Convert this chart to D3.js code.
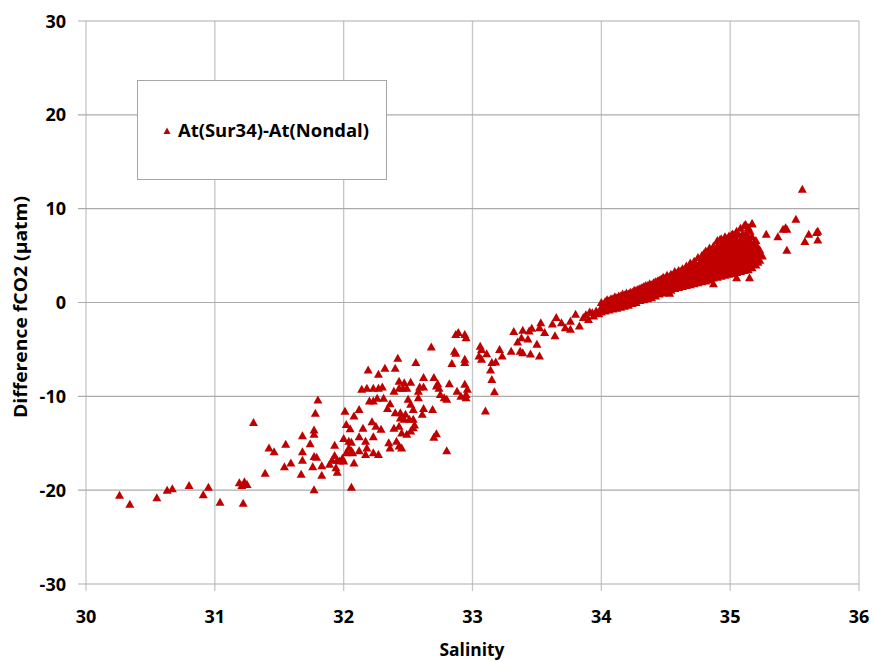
<!DOCTYPE html>
<html>
<head>
	<script src="https://d3js.org/d3.v7.min.js"></script>
	<title>Difference fCO2 vs Salinity</title>
	<style>
		body { margin: 0; background: #fff; }
		text { font-family: "Open Sans", sans-serif; font-weight: bold; fill: #000; }
	</style>
</head>
<body>
<svg id="chart" width="873" height="661"></svg>
<script>
	// axis ticks
	var salTicks = [30, 31, 32, 33, 34, 35, 36];
	var diffTicks = [-30, -20, -10, 0, 10, 20, 30];
	var seriesName = "At(Sur34)-At(Nondal)";

	// scattered part of the cloud [salinity, difference]
	var sparsePts = [
		[30.26,-20.55],[30.34,-21.5],[30.55,-20.8],[30.63,-20.0],[30.67,-19.85],[30.80,-19.5],[30.91,-20.5],[30.95,-19.7],
		[31.04,-21.3],[31.19,-19.2],[31.23,-19.1],[31.22,-21.4],[31.25,-19.4],[31.21,-19.5],[31.30,-12.8],[31.39,-18.2],
		[31.42,-15.5],[31.46,-15.9],[31.55,-15.1],[31.54,-17.5],[31.59,-17.1],[31.68,-14.2],[31.68,-15.9],[31.68,-16.8],
		[31.67,-18.3],[31.74,-15.05],[31.77,-16.4],[31.79,-16.5],[31.76,-17.5],[31.83,-17.4],[31.83,-18.4],[31.77,-19.95],
		[31.77,-13.6],[31.78,-11.8],[31.80,-10.4],[31.77,-14.05],[31.89,-17.25],[31.91,-16.8],[31.93,-16.3],[31.95,-16.8],
		[31.97,-16.9],[31.99,-16.6],[32.00,-16.9],[31.94,-17.6],[31.95,-18.1],[31.93,-15.2],[32.01,-11.6],[32.02,-13.0],
		[32.00,-14.5],[32.04,-14.8],[32.06,-14.9],[32.04,-15.5],[32.02,-16.0],[32.06,-15.8],[32.07,-16.0],[32.05,-13.45],
		[32.08,-17.1],[32.06,-19.7],[32.08,-12.1],[32.12,-11.4],[32.15,-13.4],[32.12,-14.3],[32.17,-14.8],[32.18,-15.5],
		[32.12,-15.8],[32.17,-16.2],[32.23,-16.0],[32.27,-16.2],[32.22,-12.7],[32.25,-13.2],[32.29,-13.5],[32.23,-14.3],
		[32.14,-9.25],[32.18,-9.15],[32.19,-7.2],[32.20,-10.5],[32.23,-10.5],[32.26,-10.2],[32.23,-9.15],[32.27,-9.15],
		[32.30,-9.0],[32.27,-7.65],[32.32,-7.0],[32.40,-7.0],[32.42,-5.95],[32.31,-10.2],[32.36,-10.8],[32.34,-11.3],
		[32.39,-9.45],[32.43,-9.15],[32.46,-9.15],[32.43,-8.4],[32.47,-8.55],[32.52,-8.5],[32.49,-9.15],[32.40,-11.75],
		[32.44,-11.75],[32.48,-11.9],[32.44,-12.3],[32.47,-12.45],[32.51,-12.45],[32.39,-13.4],[32.43,-13.2],[32.45,-13.9],
		[32.49,-14.05],[32.52,-13.7],[32.35,-14.95],[32.36,-15.5],[32.41,-14.8],[32.43,-15.3],[32.45,-15.5],[32.50,-10.3],
		[32.52,-10.85],[32.54,-11.4],[32.54,-12.45],[32.54,-13.35],[32.55,-13.05],[32.56,-6.4],[32.58,-9.45],[32.59,-9.0],
		[32.62,-9.0],[32.58,-10.15],[32.62,-8.0],[32.62,-11.3],[32.61,-11.9],[32.69,-11.4],[32.68,-4.75],[32.70,-8.0],
		[32.72,-8.9],[32.73,-8.65],[32.74,-9.15],[32.70,-14.35],[32.72,-14.0],[32.80,-15.8],[32.75,-9.8],[32.78,-10.15],
		[32.80,-10.3],[32.82,-8.65],[32.84,-6.5],[32.86,-5.2],[32.87,-5.4],[32.87,-3.4],[32.89,-3.2],[32.94,-3.4],
		[32.95,-3.75],[32.94,-6.05],[32.94,-6.4],[32.88,-9.45],[32.91,-10.0],[32.95,-10.15],[32.94,-8.7],[32.96,-9.25],
		[32.95,-9.8],[33.06,-4.65],[33.07,-5.0],[33.05,-5.7],[33.07,-6.05],[33.11,-5.45],[33.15,-6.4],[33.18,-6.35],
		[33.14,-7.2],[33.15,-8.2],[33.10,-11.55],[33.17,-9.5],[33.23,-5.7],[33.21,-5.0],[33.32,-3.1],[33.30,-5.2],
		[33.37,-5.2],[33.39,-5.35],[33.45,-5.5],[33.52,-5.7],[33.50,-4.45],[33.35,-4.2],[33.38,-3.75],[33.43,-3.9],
		[33.44,-3.05],[33.39,-2.95],[33.46,-2.75],[33.53,-2.15],[33.52,-2.7],[33.56,-3.2],[33.62,-2.3],[33.64,-3.55],
		[33.65,-1.6],[33.69,-2.15],[33.72,-2.7],[33.76,-2.85],[33.76,-2.0],[33.80,-1.25],[33.83,-2.5],[33.86,-1.6],
		[33.88,-1.3],[33.90,-1.8],[33.91,-1.0],[33.93,-1.1],[33.94,-1.45],[33.96,-0.9],[33.98,-1.2],[34.02,-0.7]
	];

	// dense band above 34 (read column by column)
	var bandPts = [
		[34.00,-1.0],[34.00,-0.5],[34.00,0.0],[34.03,-0.9],[34.03,-0.4],[34.03,0.1],[34.06,-0.8],[34.06,-0.3],[34.06,0.2],
		[34.09,-0.7],[34.09,-0.2],[34.09,0.4],[34.12,-0.6],[34.12,0.0],[34.12,0.5],[34.15,-0.5],[34.15,0.1],[34.15,0.7],
		[34.18,-0.4],[34.18,0.2],[34.18,0.8],[34.21,-0.3],[34.21,0.3],[34.21,0.9],[34.24,-0.1],[34.24,0.5],[34.24,1.1],
		[34.27,0.0],[34.27,0.6],[34.27,1.3],[34.30,0.2],[34.30,0.8],[34.30,1.5],[34.33,0.3],[34.33,0.9],[34.33,1.7],
		[34.36,0.4],[34.36,1.0],[34.36,1.8],[34.39,0.5],[34.39,1.2],[34.39,1.9],[34.42,0.7],[34.42,1.4],[34.42,2.2],
		[34.45,0.9],[34.45,1.5],[34.45,2.0],[34.45,2.4],[34.48,1.0],[34.48,1.6],[34.48,2.3],[34.48,2.7],
		[34.51,1.2],[34.51,1.8],[34.51,2.4],[34.51,2.9],[34.54,1.3],[34.54,2.0],[34.54,2.6],[34.54,3.0],
		[34.57,1.5],[34.57,2.1],[34.57,2.8],[34.57,3.3],[34.60,1.6],[34.60,2.3],[34.60,3.0],[34.60,3.4],
		[34.63,1.7],[34.63,2.4],[34.63,3.1],[34.63,3.6],[34.66,1.8],[34.66,2.5],[34.66,3.2],[34.66,3.9],
		[34.69,1.9],[34.69,2.6],[34.69,3.4],[34.69,4.2],[34.72,2.0],[34.72,2.8],[34.72,3.6],[34.72,4.4],
		[34.75,2.1],[34.75,2.9],[34.75,3.8],[34.75,4.8],[34.78,2.2],[34.78,3.0],[34.78,3.9],[34.78,4.6],[34.78,5.0],
		[34.81,2.3],[34.81,3.1],[34.81,4.0],[34.81,4.8],[34.81,5.5],[34.84,2.4],[34.84,3.2],[34.84,4.1],[34.84,5.0],[34.84,5.8],
		[34.87,2.6],[34.87,3.4],[34.87,4.2],[34.87,5.1],[34.87,6.0],[34.90,2.7],[34.90,3.5],[34.90,4.3],[34.90,5.2],[34.90,6.0],[34.90,6.6],
		[34.93,2.8],[34.93,3.6],[34.93,4.4],[34.93,5.3],[34.93,6.2],[34.93,6.8],[34.96,2.9],[34.96,3.7],[34.96,4.5],[34.96,5.4],[34.96,6.3],[34.96,7.0],
		[34.99,3.0],[34.99,3.8],[34.99,4.6],[34.99,5.5],[34.99,6.4],[34.99,7.1],[35.02,3.1],[35.02,3.9],[35.02,4.7],[35.02,5.6],[35.02,6.5],[35.02,7.3],
		[35.05,3.2],[35.05,4.0],[35.05,4.8],[35.05,5.7],[35.05,6.6],[35.05,7.6],[35.08,3.3],[35.08,4.1],[35.08,4.9],[35.08,5.8],[35.08,6.7],[35.08,7.9],
		[35.11,3.4],[35.11,4.2],[35.11,5.0],[35.11,5.9],[35.11,6.8],[35.11,8.2],[35.14,3.5],[35.14,4.3],[35.14,5.1],[35.14,6.0],[35.14,6.9],[35.14,8.0],
		[35.17,3.7],[35.17,4.4],[35.17,5.2],[35.17,6.1],[35.17,7.0],[35.17,8.4],[35.20,4.0],[35.20,4.6],[35.20,5.3],[35.20,6.0],[35.20,6.6],
		[35.23,4.5],[35.23,5.0],[35.23,5.6]
	];

	// in-between readings of the band
	var bandPts2 = [
		[34.015,-0.7],[34.015,-0.2],[34.045,-0.6],[34.045,-0.1],[34.045,0.3],[34.075,-0.5],[34.075,0.0],[34.075,0.4],
		[34.105,-0.4],[34.105,0.2],[34.105,0.6],[34.135,-0.3],[34.135,0.3],[34.135,0.7],[34.165,-0.2],[34.165,0.4],[34.165,0.9],
		[34.195,-0.1],[34.195,0.5],[34.195,1.0],[34.225,0.0],[34.225,0.6],[34.225,1.1],[34.255,0.2],[34.255,0.8],[34.255,1.3],
		[34.285,0.3],[34.285,0.9],[34.285,1.4],[34.315,0.5],[34.315,1.1],[34.315,1.6],[34.345,0.6],[34.345,1.2],[34.345,1.8],
		[34.375,0.7],[34.375,1.4],[34.375,2.0],[34.405,0.8],[34.405,1.5],[34.405,2.1],[34.435,1.0],[34.435,1.7],[34.435,2.3],
		[34.465,1.2],[34.465,1.9],[34.465,2.5],[34.495,1.3],[34.495,2.0],[34.495,2.6],[34.525,1.5],[34.525,2.1],[34.525,2.7],
		[34.555,1.6],[34.555,2.3],[34.555,2.9],[34.585,1.8],[34.585,2.5],[34.585,3.1],[34.615,1.9],[34.615,2.6],[34.615,3.3],
		[34.645,2.0],[34.645,2.8],[34.645,3.5],[34.675,2.2],[34.675,2.9],[34.675,3.7],[34.705,2.3],[34.705,3.1],[34.705,3.9],
		[34.735,2.4],[34.735,3.3],[34.735,4.1],[34.765,2.5],[34.765,3.4],[34.765,4.3],
		[34.795,2.6],[34.795,3.5],[34.795,4.4],[34.795,5.2],[34.825,2.7],[34.825,3.6],[34.825,4.5],[34.825,5.3],
		[34.855,2.8],[34.855,3.7],[34.855,4.6],[34.855,5.5],[34.885,2.9],[34.885,3.8],[34.885,4.7],[34.885,5.6],
		[34.915,3.1],[34.915,3.9],[34.915,4.8],[34.915,5.7],[34.915,6.4],[34.945,3.2],[34.945,4.0],[34.945,4.9],[34.945,5.8],[34.945,6.6],
		[34.975,3.3],[34.975,4.1],[34.975,5.0],[34.975,5.9],[34.975,6.8],[35.005,3.4],[35.005,4.2],[35.005,5.1],[35.005,6.0],[35.005,6.9],
		[35.035,3.5],[35.035,4.3],[35.035,5.2],[35.035,6.1],[35.035,7.0],[35.065,3.6],[35.065,4.4],[35.065,5.3],[35.065,6.2],[35.065,7.2],
		[35.095,3.7],[35.095,4.5],[35.095,5.4],[35.095,6.3],[35.095,7.3],[35.125,3.8],[35.125,4.7],[35.125,5.5],[35.125,6.4],[35.125,7.4],
		[35.155,3.9],[35.155,4.8],[35.155,5.6],[35.155,6.5],[35.155,7.6],[35.185,4.1],[35.185,4.9],[35.185,5.7],[35.185,6.4],
		[35.215,4.3],[35.215,5.1],[35.215,5.9]
	];

	// isolated points right of the band
	var outlierPts = [
		[35.56,12.07],[35.51,8.87],[35.43,7.97],[35.41,7.8],[35.44,7.8],[35.37,7.0],[35.28,7.27],[35.61,7.27],
		[35.58,6.5],[35.68,7.6],[35.67,7.45],[35.68,6.66],[35.44,5.56],[35.25,4.96],[35.15,2.64],[35.05,2.64],
		[34.87,2.0],[34.53,0.98],[35.12,8.3],[35.17,8.4],[35.01,7.2],[34.92,6.7]
	];

	var svg = d3.select("#chart");
	var x = d3.scaleLinear().domain([30, 36]).range([86, 859]);
	var y = d3.scaleLinear().domain([-30, 30]).range([584, 21]);

	// gridlines
	svg.append("g").selectAll("line.vg").data(salTicks).enter()
		.append("line").attr("class", "vg")
		.attr("x1", d => x(d)).attr("x2", d => x(d))
		.attr("y1", y(30)).attr("y2", y(-30) + 7)
		.attr("stroke", "#c6c6c6").attr("stroke-width", 1.3);
	svg.append("g").selectAll("line.hg").data(diffTicks).enter()
		.append("line").attr("class", "hg")
		.attr("x1", x(30) - 8).attr("x2", x(36))
		.attr("y1", d => y(d)).attr("y2", d => y(d))
		.attr("stroke", "#ababab").attr("stroke-width", 1.2);

	// tick labels
	svg.append("g").selectAll("text").data(salTicks).enter()
		.append("text")
		.attr("x", d => x(d)).attr("y", 623)
		.attr("text-anchor", "middle").attr("font-size", 18)
		.text(d => d);
	svg.append("g").selectAll("text").data(diffTicks).enter()
		.append("text")
		.attr("x", 66).attr("y", d => y(d) + 6.5)
		.attr("text-anchor", "end").attr("font-size", 18)
		.text(d => d);

	// axis titles
	svg.append("text")
		.attr("x", 472).attr("y", 656)
		.attr("text-anchor", "middle").attr("font-size", 18)
		.attr("textLength", 65).attr("lengthAdjust", "spacingAndGlyphs")
		.text("Salinity");
	svg.append("text")
		.attr("transform", "translate(27,307) rotate(-90)")
		.attr("text-anchor", "middle").attr("font-size", 18)
		.attr("textLength", 222).attr("lengthAdjust", "spacingAndGlyphs")
		.text("Difference fCO2 (µatm)");

	// markers
	var tri = "M0,-4.5L4.5,3.5L-4.5,3.5Z";
	var allPts = sparsePts.concat(bandPts, bandPts2, outlierPts);
	svg.append("g").selectAll("path").data(allPts).enter()
		.append("path")
		.attr("d", tri)
		.attr("fill", "#c00000")
		.attr("transform", d => "translate(" + x(d[0]) + "," + y(d[1]) + ")");

	// legend
	var lg = svg.append("g");
	lg.append("rect")
		.attr("x", 137.5).attr("y", 80.5).attr("width", 249).attr("height", 99)
		.attr("fill", "#fff").attr("stroke", "#a6a6a6").attr("stroke-width", 1);
	lg.append("path")
		.attr("d", "M0,-3.5L3.5,3L-3.5,3Z")
		.attr("fill", "#c00000")
		.attr("transform", "translate(167,131)");
	lg.append("text")
		.attr("x", 178).attr("y", 137)
		.attr("font-size", 18)
		.attr("textLength", 191).attr("lengthAdjust", "spacingAndGlyphs")
		.text(seriesName);
</script>
</body>
</html>
